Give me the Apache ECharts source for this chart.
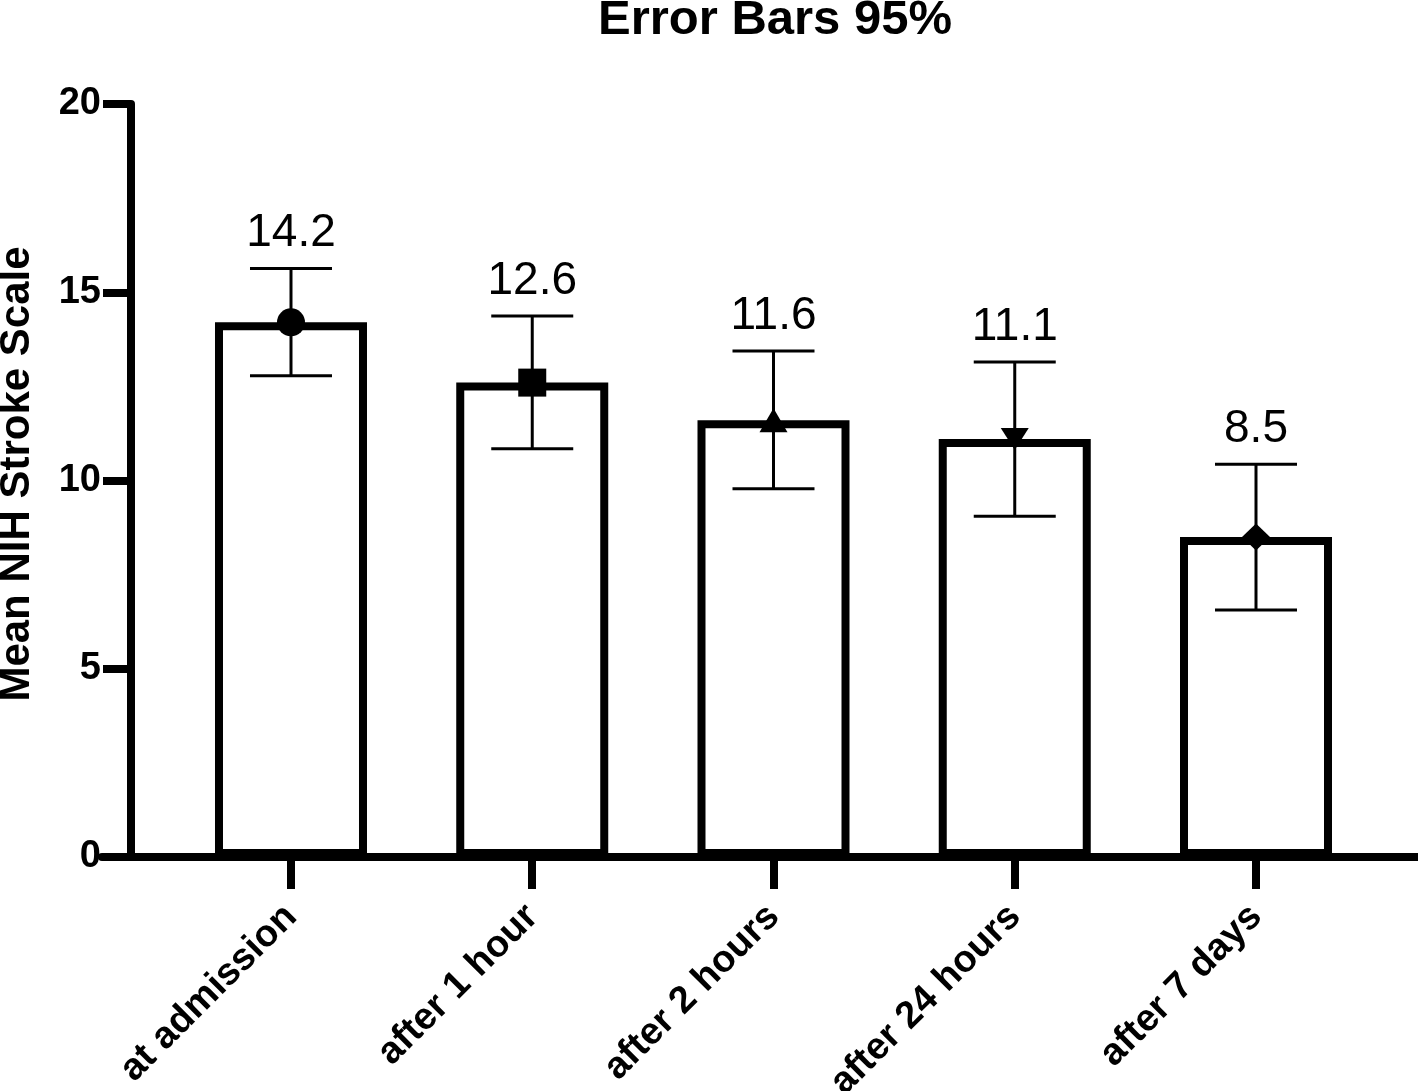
<!DOCTYPE html>
<html>
<head>
<meta charset="utf-8">
<script src="https://cdn.jsdelivr.net/npm/echarts@6/dist/echarts.min.js"></script>
<style>
  html, body { margin: 0; padding: 0; background: #fff; }
  #main { width: 1418px; height: 1091px; }
</style>
</head>
<body>
<div id="main"></div>
<script>
// categories and values
const categories = ["at admission", "after 1 hour", "after 2 hours", "after 24 hours", "after 7 days"];
const means = [14.2, 12.6, 11.6, 11.1, 8.5];
const ciLow = [12.78, 10.84, 9.78, 9.05, 6.56];
const ciHigh = [15.63, 14.37, 13.44, 13.15, 10.43];
const markerShapes = ["circle", "rect", "triangle", "triangle", "diamond"];
const yTicks = [0, 5, 10, 15, 20];

const FONT = "Liberation Sans, Arial, Helvetica, sans-serif";

var chart = echarts.init(document.getElementById("main"));

const idx = categories.map((_, i) => i);

const barData = means.map((m, i) => [i, m]);
const errData = means.map((m, i) => [i, ciLow[i], ciHigh[i], m]);
const markerData = means.map((m, i) => {
  const shape = markerShapes[i];
  let size = 28;
  let rotate = 0;
  if (shape === "triangle") size = [28, 24];
  if (shape === "diamond") size = [28, 27];
  if (i === 3) { rotate = 180; size = [28, 22]; }
  return { value: [i, m], symbol: shape, symbolSize: size, symbolRotate: rotate };
});

const option = {
  animation: false,
  backgroundColor: "#fff",
  title: {
    text: "Error Bars 95%",
    left: 770,
    textAlign: "center",
    top: -9,
    textStyle: { fontFamily: FONT, fontSize: 49, fontWeight: "bold", color: "#000" },
  },
  grid: { left: 102, right: 0, top: 104, bottom: 234, outerBoundsMode: "none", containLabel: false },
  xAxis: {
    type: "value",
    min: -0.7834,
    max: 4.6715,
    splitLine: { show: false },
    axisLine: { show: true, onZero: false, lineStyle: { color: "#000", width: 8 } },
    axisTick: {
      show: true,
      customValues: idx,
      length: 32,
      lineStyle: { color: "#000", width: 8 },
    },
    axisLabel: {
      customValues: idx,
      rotate: 45,
      margin: 54,
      color: "#000",
      fontFamily: FONT,
      fontSize: 38,
      fontWeight: "bold",
      formatter: (v) => categories[Math.round(v)] || "",
    },
  },
  yAxis: {
    type: "value",
    min: 0,
    max: 20,
    interval: 5,
    offset: -29,
    name: "Mean NIH Stroke Scale",
    nameLocation: "middle",
    nameGap: 93,
    nameTextStyle: {
      fontFamily: FONT, fontSize: 42, fontWeight: "bold", color: "#000",
      padding: [0, 0, 0, 13],
    },
    splitLine: { show: false },
    axisLine: { show: true, onZero: false, lineStyle: { color: "#000", width: 8 } },
    axisTick: { show: true, length: 28, lineStyle: { color: "#000", width: 8 } },
    axisLabel: {
      margin: 30,
      color: "#000",
      fontFamily: FONT,
      fontSize: 38,
      fontWeight: "bold",
      formatter: (v) => (yTicks.includes(v) ? String(v) : ""),
    },
  },
  series: [
    {
      type: "bar",
      data: barData,
      barWidth: 152,
      itemStyle: { color: "#fff", borderColor: "#000", borderWidth: 8 },
      z: 1,
    },
    {
      type: "custom",
      data: errData,
      z: 3,
      renderItem: (params, api) => {
        const x = api.value(0);
        const lo = api.coord([x, api.value(1)]);
        const hi = api.coord([x, api.value(2)]);
        const half = 41;
        const style = { stroke: "#000", lineWidth: 3 };
        return {
          type: "group",
          children: [
            { type: "line", shape: { x1: hi[0], y1: hi[1], x2: lo[0], y2: lo[1] }, style },
            { type: "line", shape: { x1: hi[0] - half, y1: hi[1], x2: hi[0] + half, y2: hi[1] }, style },
            { type: "line", shape: { x1: lo[0] - half, y1: lo[1], x2: lo[0] + half, y2: lo[1] }, style },
            {
              type: "text",
              x: hi[0],
              y: hi[1] - 12,
              style: {
                text: String(api.value(3)),
                fill: "#000",
                font: "46px " + FONT,
                textAlign: "center",
                textVerticalAlign: "bottom",
              },
            },
          ],
        };
      },
    },
    {
      type: "scatter",
      data: markerData,
      itemStyle: { color: "#000", opacity: 1 },
      z: 4,
    },
  ],
};

chart.setOption(option);
</script>
</body>
</html>
